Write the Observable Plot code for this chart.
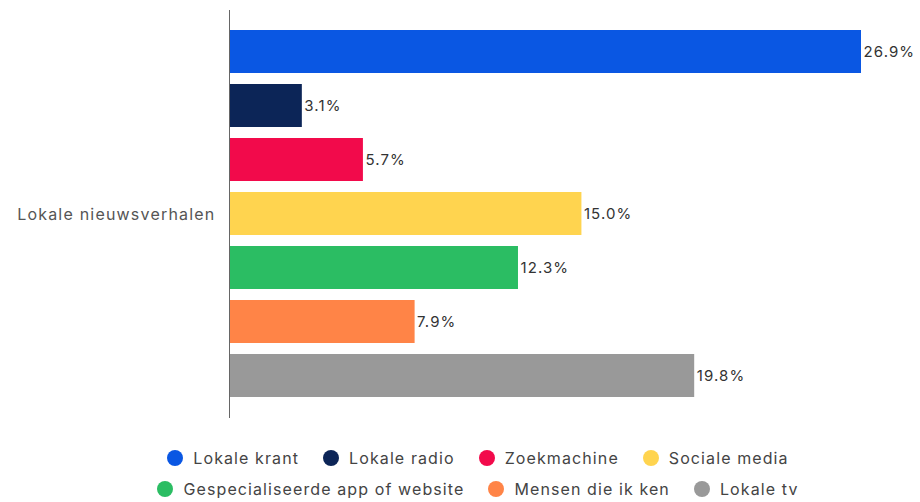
<!DOCTYPE html>
<html>
<head>
<meta charset="utf-8">
<script src="https://cdn.jsdelivr.net/npm/d3@7"></script>
<script src="https://cdn.jsdelivr.net/npm/@observablehq/plot@0.6"></script>
<style>
  body { margin: 0; background: #fff; font-family: Inter, sans-serif; }
  #chart { width: 920px; }
  .legend { display: flex; flex-wrap: wrap; justify-content: center; width: 800px; margin: 18px 0 0 78px; column-gap: 24px; row-gap: 11px; font-size: 16px; letter-spacing: 1.1px; color: #444; }
  .legend span.item { display: inline-flex; align-items: center; white-space: nowrap; }
  .legend span.dot { width: 16px; height: 16px; border-radius: 50%; display: inline-block; margin-right: 10px; }
</style>
</head>
<body>
<div id="chart"></div>
<script>
const category = "Lokale nieuwsverhalen";
const series = ["Lokale krant", "Lokale radio", "Zoekmachine", "Sociale media", "Gespecialiseerde app of website", "Mensen die ik ken", "Lokale tv"];
const values = [26.9, 3.1, 5.7, 15.0, 12.3, 7.9, 19.8];
const colors = ["#0a57e3", "#0c2557", "#f20a4b", "#ffd44f", "#2bbd63", "#ff8447", "#999999"];

const data = series.map((s, i) => ({category, series: s, value: values[i]}));

const plot = Plot.plot({
  width: 920,
  height: 430,
  marginLeft: 229,
  marginRight: 59,
  marginTop: 10,
  marginBottom: 12,
  style: {fontFamily: "Inter, sans-serif"},
  x: {domain: [0, 26.9], axis: null},
  y: {domain: series, axis: null, paddingInner: 0.2, paddingOuter: 0.36},
  color: {domain: series, range: colors},
  marks: [
    Plot.barX(data, {x: "value", y: "series", fill: "series"}),
    Plot.text(data, {x: "value", y: "series", text: d => d.value.toFixed(1) + "%", textAnchor: "start", dx: 2, fontSize: 15, fill: "#333", className: "val"}),
    Plot.ruleX([0], {stroke: "#666", strokeWidth: 1}),
    Plot.text([category], {frameAnchor: "left", text: d => d, textAnchor: "end", dx: -14, fontSize: 16, fill: "#555", className: "cat"})
  ]
});
plot.querySelectorAll("g.val text").forEach(t => t.style.letterSpacing = "1.1px");
plot.querySelectorAll("g.cat text").forEach(t => t.style.letterSpacing = "1.2px");
document.getElementById("chart").appendChild(plot);

const legend = document.createElement("div");
legend.className = "legend";
series.forEach((s, i) => {
  const item = document.createElement("span");
  item.className = "item";
  const dot = document.createElement("span");
  dot.className = "dot";
  dot.style.background = colors[i];
  item.appendChild(dot);
  item.appendChild(document.createTextNode(s));
  legend.appendChild(item);
});
document.getElementById("chart").appendChild(legend);
</script>
</body>
</html>
